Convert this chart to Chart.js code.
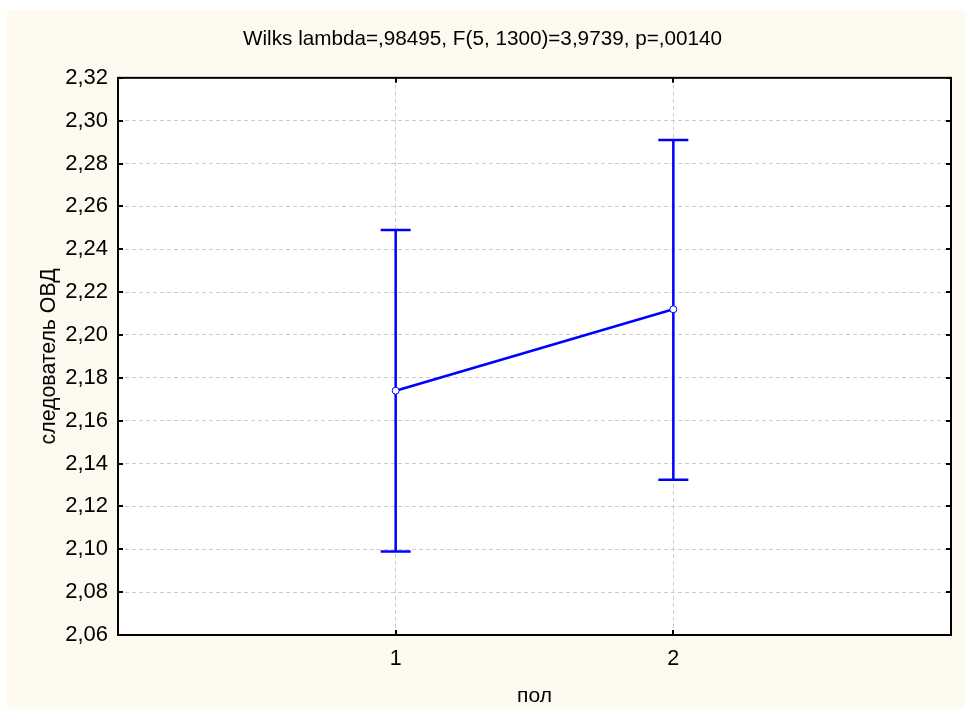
<!DOCTYPE html>
<html>
<head>
<meta charset="utf-8">
<script src="https://cdn.jsdelivr.net/npm/chart.js@4.4.1/dist/chart.umd.min.js"></script>
<style>
    html, body { margin: 0; padding: 0; background: #ffffff; }
    #wrap { width: 965px; height: 709px; }
</style>
</head>
<body>
<div id="wrap"><canvas id="meansChart" width="965" height="709"></canvas></div>
<script>
const groups = [1, 2];
const means = [2.174, 2.212];
const upper = [2.249, 2.291];
const lower = [2.099, 2.1325];

const xMin = 0;
const xMax = 3;
const yMin = 2.06;
const yMax = 2.32;
const yStep = 0.02;

const titleText = 'Wilks lambda=,98495, F(5, 1300)=3,9739, p=,00140';
const xTitle = 'пол';
const yTitle = 'следователь ОВД';

const fontFamily = "'Liberation Sans', Arial, sans-serif";
const blue = '#0000ff';

// cream page + white plot area
const backgroundPlugin = {
    id: 'backgroundPlugin',
    beforeDraw(chart) {
        const ctx = chart.ctx;
        const a = chart.chartArea;
        ctx.save();
        ctx.fillStyle = '#fffaf0';
        ctx.fillRect(7, 10, chart.width - 7, chart.height - 10);
        ctx.fillStyle = '#ffffff';
        ctx.fillRect(a.left, a.top, a.right - a.left, a.bottom - a.top);
        ctx.restore();
    }
};

// whiskers, drawn under the line points
const errorBarPlugin = {
    id: 'errorBarPlugin',
    beforeDatasetsDraw(chart) {
        const ctx = chart.ctx;
        const x = chart.scales.x;
        const y = chart.scales.y;
        ctx.save();
        ctx.strokeStyle = blue;
        ctx.lineWidth = 2.5;
        groups.forEach((g, i) => {
            const px = x.getPixelForValue(g);
            const top = y.getPixelForValue(upper[i]);
            const bot = y.getPixelForValue(lower[i]);
            ctx.beginPath();
            ctx.moveTo(px, top);
            ctx.lineTo(px, bot);
            ctx.moveTo(px - 15, top);
            ctx.lineTo(px + 15, top);
            ctx.moveTo(px - 15, bot);
            ctx.lineTo(px + 15, bot);
            ctx.stroke();
        });
        ctx.restore();
    }
};

// frame and inward tick marks on all four sides
const framePlugin = {
    id: 'framePlugin',
    afterDraw(chart) {
        const ctx = chart.ctx;
        const a = chart.chartArea;
        const len = 5;
        ctx.save();
        ctx.strokeStyle = '#000000';
        ctx.lineWidth = 2;
        ctx.beginPath();
        chart.scales.y.ticks.forEach(t => {
            const py = Math.round(chart.scales.y.getPixelForValue(t.value));
            ctx.moveTo(a.left, py);
            ctx.lineTo(a.left + len, py);
            ctx.moveTo(a.right, py);
            ctx.lineTo(a.right - len, py);
        });
        chart.scales.x.ticks.forEach(t => {
            const px = Math.round(chart.scales.x.getPixelForValue(t.value));
            ctx.moveTo(px, a.bottom);
            ctx.lineTo(px, a.bottom - len);
            ctx.moveTo(px, a.top);
            ctx.lineTo(px, a.top + len);
        });
        ctx.stroke();
        ctx.strokeRect(a.left, a.top, a.right - a.left, a.bottom - a.top);
        ctx.restore();
    }
};

const ctx = document.getElementById('meansChart').getContext('2d');

new Chart(ctx, {
    type: 'line',
    data: {
        datasets: [{
            data: groups.map((g, i) => ({ x: g, y: means[i] })),
            borderColor: blue,
            borderWidth: 2.5,
            pointRadius: 3.5,
            pointBackgroundColor: '#ffffff',
            pointBorderColor: blue,
            pointBorderWidth: 1,
            tension: 0
        }]
    },
    options: {
        responsive: false,
        animation: false,
        layout: {
            padding: { left: 14, right: 14, top: 0, bottom: 0 }
        },
        plugins: {
            legend: { display: false },
            tooltip: { enabled: false },
            title: {
                display: true,
                text: titleText,
                color: '#000000',
                font: { family: fontFamily, size: 20.7, weight: 'normal' },
                padding: { top: 27, bottom: 26 }
            }
        },
        scales: {
            x: {
                type: 'linear',
                min: xMin,
                max: xMax,
                afterBuildTicks(scale) {
                    scale.ticks = groups.map(g => ({ value: g }));
                },
                afterFit(scale) {
                    scale.height = 74;
                },
                ticks: {
                    color: '#000000',
                    padding: 11,
                    font: { family: fontFamily, size: 21.5 }
                },
                grid: {
                    color: '#cccccc',
                    lineWidth: 1,
                    drawTicks: false
                },
                border: { display: false, dash: [4, 3] },
                title: {
                    display: true,
                    text: xTitle,
                    color: '#000000',
                    font: { family: fontFamily, size: 21 },
                    padding: { top: 0, bottom: 0 }
                }
            },
            y: {
                min: yMin,
                max: yMax,
                afterFit(scale) {
                    scale.width = 104;
                },
                ticks: {
                    stepSize: yStep,
                    color: '#000000',
                    padding: 10,
                    font: { family: fontFamily, size: 22 },
                    callback: v => v.toFixed(2).replace('.', ',')
                },
                grid: {
                    color: '#cccccc',
                    lineWidth: 1,
                    drawTicks: false
                },
                border: { display: false, dash: [4, 3] },
                title: {
                    display: true,
                    text: yTitle,
                    color: '#000000',
                    font: { family: fontFamily, size: 21.3 },
                    padding: { top: 22, bottom: 0 }
                }
            }
        }
    },
    plugins: [backgroundPlugin, errorBarPlugin, framePlugin]
});
</script>
</body>
</html>
